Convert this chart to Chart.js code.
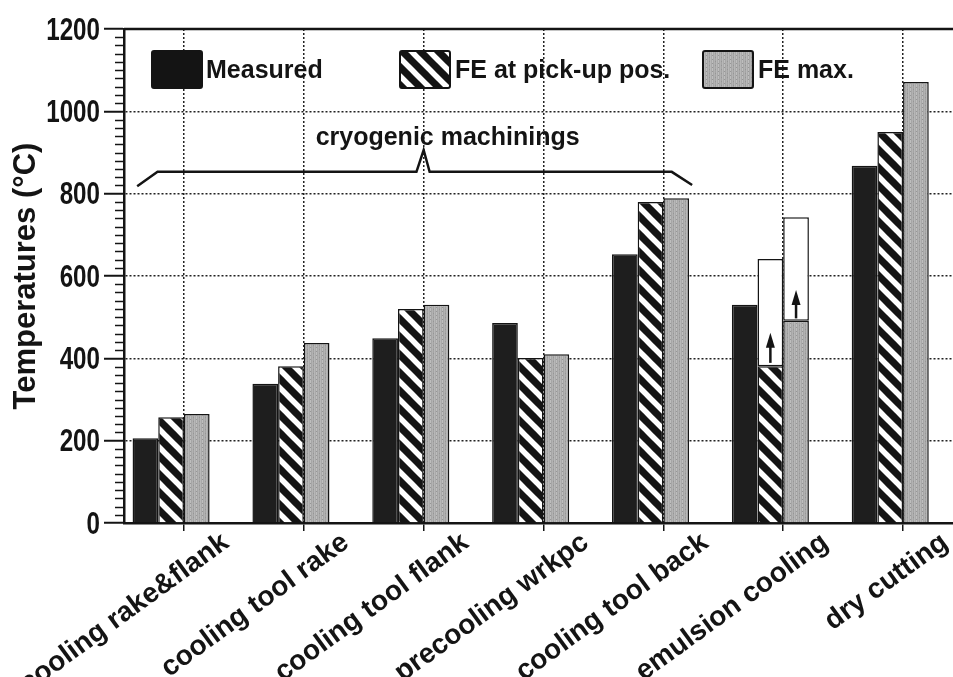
<!DOCTYPE html>
<html>
<head>
<meta charset="utf-8">
<script src="https://cdn.jsdelivr.net/npm/chart.js@4.4.1/dist/chart.umd.min.js"></script>
<style>
  html, body { margin: 0; padding: 0; overflow: hidden; background: #fff; }
  canvas { display: block; }
</style>
</head>
<body>
<canvas id="chart" width="990" height="677"></canvas>
<script>
// Values
const categories = ['cooling rake&flank', 'cooling tool rake', 'cooling tool flank', 'precooling wrkpc',
                    'cooling tool back', 'emulsion cooling', 'dry cutting'];
const measured = [206, 338, 449, 486, 653, 530, 868];
const fePickup = [257, 381, 520, 401, 780, 381, 950];
const feMax    = [265, 437, 530, 410, 789, 491, 1071];
// emulsion cooling: open boxes on top of the FE bars, arrows show the rise
const fePickupRange = [null, null, null, null, null, [381, 641], null];
const feMaxRange    = [null, null, null, null, null, [491, 743], null];
const fePickupArrow = [null, null, null, null, null, [389, 462], null];
const feMaxArrow    = [null, null, null, null, null, [497, 566], null];
const yTicks = [0, 200, 400, 600, 800, 1000, 1200];
const seriesNames = ['Measured', 'FE at pick-up pos.', 'FE max.'];
const groupLabel = 'cryogenic machinings';

const INK = '#141414';
const SANS = "'Liberation Sans', Arial, sans-serif";

// black bands with white stripes, running top-left to bottom-right
function hatchPattern() {
    const s = 18;
    const c = document.createElement('canvas');
    c.width = s; c.height = s;
    const g = c.getContext('2d');
    g.fillStyle = INK;
    g.fillRect(0, 0, s, s);
    g.strokeStyle = '#fff';
    g.lineWidth = 5.5;
    // lines run past the tile so the corners join up seamlessly
    [-1, 0, 1].forEach(k => {
        g.beginPath();
        g.moveTo(k * s - s, -s);
        g.lineTo(k * s + 2 * s, 2 * s);
        g.stroke();
    });
    return g.createPattern(c, 'repeat');
}

function grayPattern() {
    const c = document.createElement('canvas');
    c.width = 6; c.height = 4;
    const g = c.getContext('2d');
    ['#b2b2b2', '#a3a3a3', '#b8b8b8', '#a9a9a9', '#bebebe', '#a6a6a6'].forEach((col, i) => {
        g.fillStyle = col;
        g.fillRect(i, 0, 1, 4);
    });
    g.fillStyle = '#969696';
    g.fillRect(1, 1, 1, 1);
    g.fillRect(4, 3, 1, 1);
    return g.createPattern(c, 'repeat');
}

const hatch = hatchPattern();
const gray = grayPattern();

function drawArrow(g, x, yFrom, yTo) {
    g.strokeStyle = INK;
    g.fillStyle = INK;
    g.lineWidth = 2.5;
    g.beginPath();
    g.moveTo(x, yFrom);
    g.lineTo(x, yTo + 10);
    g.stroke();
    g.beginPath();
    g.moveTo(x, yTo);
    g.lineTo(x - 4.5, yTo + 15);
    g.lineTo(x + 4.5, yTo + 15);
    g.closePath();
    g.fill();
}

const decorations = {
    id: 'decorations',
    afterDatasetsDraw(chart) {
        const g = chart.ctx;
        const { x, y } = chart.scales;
        const area = chart.chartArea;
        g.save();

        // arrows inside the emulsion cooling bars
        [[1, fePickupArrow], [2, feMaxArrow]].forEach(([ds, arr]) => {
            const meta = chart.getDatasetMeta(ds);
            arr.forEach((v, i) => {
                if (!v) return;
                drawArrow(g, meta.data[i].x, y.getPixelForValue(v[0]), y.getPixelForValue(v[1]));
            });
        });

        // brace over the cryogenic group
        const brace = [[-0.39, 818], [-0.22, 853], [1.94, 853], [2.0, 906], [2.05, 853],
                       [4.07, 853], [4.24, 821]];
        g.strokeStyle = INK;
        g.lineWidth = 2.5;
        g.lineJoin = 'miter';
        g.beginPath();
        brace.forEach(([cx, cy], i) => {
            const px = x.getPixelForValue(cx), py = y.getPixelForValue(cy);
            if (i === 0) g.moveTo(px, py); else g.lineTo(px, py);
        });
        g.stroke();
        g.fillStyle = INK;
        g.font = "bold 25px " + SANS;
        g.textAlign = 'center';
        g.textBaseline = 'alphabetic';
        g.fillText(groupLabel, x.getPixelForValue(2.2), y.getPixelForValue(918));

        // legend inside the plot
        const fills = [INK, hatch, gray];
        const slots = [[152, 206], [400, 455], [703, 758]];
        g.textAlign = 'left';
        slots.forEach(([bx, tx], i) => {
            g.fillStyle = fills[i];
            g.beginPath();
            g.roundRect(bx, 51, 50, 37, 2);
            g.fill();
            g.lineWidth = 2;
            g.strokeStyle = INK;
            g.stroke();
            g.fillStyle = INK;
            g.fillText(seriesNames[i], tx, 78);
        });

        // top frame line
        g.lineWidth = 2.5;
        g.beginPath();
        g.moveTo(area.left, area.top);
        g.lineTo(area.right, area.top);
        g.stroke();

        // minor ticks on the value axis
        g.lineWidth = 1.5;
        for (let v = 20; v < 1200; v += 20) {
            if (v % 200 === 0) continue;
            const py = Math.round(y.getPixelForValue(v)) + 0.5;
            g.beginPath();
            g.moveTo(area.left - 9, py);
            g.lineTo(area.left, py);
            g.stroke();
        }

        // value-axis labels in a narrow face (tall, condensed digits)
        g.font = "bold 31px " + SANS;
        g.textAlign = 'right';
        g.textBaseline = 'middle';
        y.ticks.forEach(t => {
            g.save();
            g.translate(area.left - 24, y.getPixelForValue(t.value) + 2);
            g.scale(0.78, 1);
            g.fillText(String(t.value), 0, 0);
            g.restore();
        });
        g.restore();
    }
};

new Chart(document.getElementById('chart'), {
    type: 'bar',
    data: {
        labels: categories,
        datasets: [
            { label: seriesNames[0], data: measured, stack: 'm', backgroundColor: '#1e1e1e' },
            { label: seriesNames[1], data: fePickup, stack: 'p', backgroundColor: hatch },
            { label: seriesNames[2], data: feMax, stack: 'x', backgroundColor: gray },
            { label: '', data: [], stack: 's' },
            { label: '', data: fePickupRange, stack: 'p', backgroundColor: '#fff', borderSkipped: false },
            { label: '', data: feMaxRange, stack: 'x', backgroundColor: '#fff', borderSkipped: false }
        ]
    },
    options: {
        responsive: false,
        animation: false,
        layout: { padding: { top: 29, right: 27, left: 0, bottom: 0 } },
        datasets: {
            bar: { categoryPercentage: 0.857, barPercentage: 1, borderWidth: 1.5, borderColor: INK }
        },
        plugins: { legend: { display: false }, tooltip: { enabled: false } },
        scales: {
            x: {
                stacked: true,
                offset: true,
                grid: { offset: false, color: '#222', lineWidth: 1.5, tickLength: 8, tickColor: INK, tickWidth: 1.5 },
                border: { color: INK, width: 2.5, dash: [2, 2] },
                ticks: {
                    color: INK, autoSkip: false, minRotation: 36, maxRotation: 36, labelOffset: 42, padding: -5,
                    font: { family: SANS, size: 28, weight: 'bold' }
                },
                afterFit: s => { s.height = 154; s.paddingLeft = 0; s.paddingRight = 0; }
            },
            y: {
                stacked: false,
                min: 0,
                max: 1200,
                afterBuildTicks: s => { s.ticks = yTicks.map(v => ({ value: v })); },
                grid: { color: '#222', lineWidth: 1.5, tickLength: 20, tickColor: INK, tickWidth: 2 },
                border: { color: INK, width: 2.5, dash: [2, 2] },
                ticks: { display: false },
                title: {
                    display: true, text: 'Temperatures (°C)', color: INK, padding: { top: 8, bottom: 0 },
                    font: { family: SANS, size: 31, weight: 'bold' }
                },
                afterFit: s => { s.width = 124; s.paddingTop = 0; s.paddingBottom = 0; }
            }
        }
    },
    plugins: [decorations]
});
</script>
</body>
</html>
